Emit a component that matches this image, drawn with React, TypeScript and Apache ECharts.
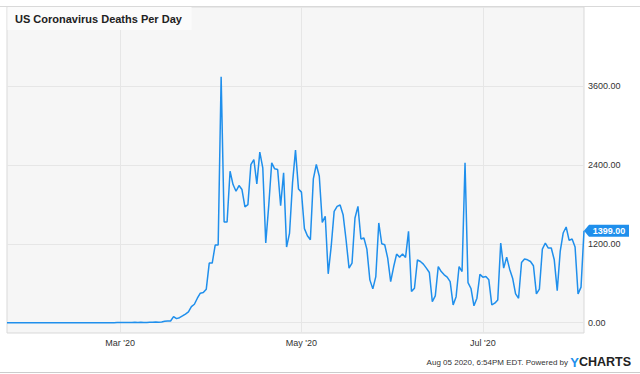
import React, { useEffect, useRef } from "react";
import * as echarts from "echarts";

// Daily deaths, Jan 23 2020 .. Aug 4 2020
const janValues = [0, 0, 0, 0, 0, 0, 0, 0, 0];
const febValues = [
  0, 0, 0, 0, 0, 0, 0, 0, 0, 0, 0, 0, 0, 0, 0, 0, 0, 0, 0, 0, 0, 0, 0, 0, 0, 0, 0, 0, 1,
];
const marValues = [
  1, 1, 4, 3, 2, 5, 2, 5, 4, 1, 6, 7, 10, 7, 11, 20, 25, 25, 92, 61, 76, 102, 130, 163, 244,
  280, 372, 448, 458, 509, 906,
];
const aprValues = [
  906, 1180, 1180, 3740, 1531, 1531, 2303, 2100, 1998, 2085, 2024, 1760, 1795, 2405, 2481,
  2111, 2593, 2355, 1211, 1779, 2431, 2339, 2329, 1780, 2278, 1150, 1363, 2126, 2623, 2034,
];
const mayValues = [
  1985, 1430, 1322, 1261, 2187, 2405, 2227, 1525, 1617, 743, 1159, 1693, 1769, 1790, 1642,
  1261, 830, 906, 1592, 1769, 1272, 1287, 1119, 651, 514, 701, 1516, 1200, 1185, 982, 625,
];
const junValues = [
  850, 1043, 997, 1043, 991, 1388, 473, 524, 956, 930, 890, 830, 763, 320, 407, 854, 778,
  727, 692, 625, 270, 396, 854, 778, 2431, 610, 520, 256, 372, 735,
];
const julValues = [
  692, 701, 651, 270, 296, 346, 1211, 830, 997, 814, 677, 438, 372, 915, 967, 956, 930, 865,
  438, 509, 1119, 1211, 1135, 1135, 956, 488, 1083, 1363, 1455, 1251, 1272,
];
const augValues = [1150, 438, 540, 1399];

const yTickValues = [0, 1200, 2400, 3600];
const xTickLabels = ["Mar '20", "May '20", "Jul '20"];
const xTickDates = ["2020-03-01", "2020-05-01", "2020-07-01"];
const startDate = "2020-01-23";
const lastValueLabel = "1399.00";

const values = [
  ...janValues,
  ...febValues,
  ...marValues,
  ...aprValues,
  ...mayValues,
  ...junValues,
  ...julValues,
  ...augValues,
];

function buildDates(start: string, n: number): string[] {
  const out: string[] = [];
  const d0 = new Date(start + "T12:00:00Z");
  for (let i = 0; i < n; i++) {
    const d = new Date(d0.getTime() + i * 86400000);
    out.push(d.toISOString().slice(0, 10));
  }
  return out;
}

const dates = buildDates(startDate, values.length);

export default function App() {
  const ref = useRef<HTMLDivElement>(null);

  useEffect(() => {
    document.body.style.margin = "0";
    const chart = echarts.init(ref.current!, null, { renderer: "svg" });
    const font = "'Liberation Sans', Arial, Helvetica, sans-serif";
    const isTick = (v: string) => xTickDates.indexOf(v) >= 0;
    const lastDate = dates[dates.length - 1];
    const lastVal = values[values.length - 1];

    chart.setOption({
      animation: false,
      backgroundColor: "#ffffff",
      textStyle: { fontFamily: font },
      grid: {
        left: 7,
        right: 56,
        top: 7,
        bottom: 41,
        show: true,
        backgroundColor: "#f6f6f6",
        borderColor: "#d9d9d9",
        borderWidth: 1,
      },
      xAxis: {
        type: "category",
        data: dates,
        boundaryGap: false,
        axisLine: { show: false },
        axisTick: { show: false },
        axisLabel: {
          interval: (_i: number, v: string) => isTick(v),
          formatter: (v: string) => xTickLabels[xTickDates.indexOf(v)] ?? "",
          color: "#333",
          fontSize: 9,
          fontFamily: font,
          margin: 5,
        },
        splitLine: {
          show: true,
          interval: (_i: number, v: string) => isTick(v),
          lineStyle: { color: "#e6e6e6", width: 1 },
        },
      },
      yAxis: {
        type: "value",
        position: "right",
        min: -157,
        max: 4800,
        axisLine: { show: false },
        axisTick: { show: false, customValues: yTickValues },
        axisLabel: {
          customValues: yTickValues,
          formatter: (v: number) => v.toFixed(2),
          color: "#333",
          fontSize: 9,
          fontFamily: font,
          margin: 4,
          verticalAlign: "middle",
          padding: [0, 0, 8, 0],
        },
        splitLine: { show: true, lineStyle: { color: "#e6e6e6", width: 1 } },
      },
      series: [
        {
          type: "line",
          data: values,
          symbol: "none",
          lineStyle: { color: "#1f8fec", width: 1.5 },
          markPoint: {
            silent: true,
            symbol: "path://M0,6 L5,0 L45,0 L45,12 L5,12 Z",
            symbolSize: [45, 12],
            symbolKeepAspect: false,
            symbolOffset: [22.5, 0],
            itemStyle: { color: "#1f8fec" },
            label: {
              show: true,
              position: "inside",
              formatter: lastValueLabel,
              color: "#ffffff",
              fontSize: 9,
              fontWeight: "bold",
              fontFamily: font,
              offset: [2.5, 0],
            },
            data: [{ coord: [lastDate, lastVal] }],
          },
        },
      ],
      graphic: [
        {
          type: "line",
          shape: { x1: 0, y1: 6.5, x2: 640, y2: 6.5 },
          style: { stroke: "#d9d9d9", lineWidth: 1 },
          z: 10,
        },
        {
          type: "rect",
          shape: { x: 7.5, y: 7, width: 184, height: 23 },
          style: { fill: "#fbfbfb" },
          z: 5,
        },
        {
          type: "text",
          x: 15,
          y: 18.5,
          style: {
            text: "US Coronavirus Deaths Per Day",
            font: `bold 11px ${font}`,
            fill: "#222",
            verticalAlign: "middle",
          },
          z: 6,
        },
        {
          type: "text",
          x: 631,
          y: 362,
          style: {
            text: "{a|Aug 05 2020, 6:54PM EDT. Powered by }{y|Y}{c|CHARTS}",
            align: "right",
            verticalAlign: "middle",
            rich: {
              a: { fontSize: 8, fontFamily: font, fill: "#333", color: "#333" },
              y: { fontSize: 13, fontWeight: "bold", fontFamily: font, color: "#1f8fec", fill: "#1f8fec" },
              c: { fontSize: 12.5, fontWeight: "bold", fontFamily: font, color: "#222", fill: "#222" },
            },
          },
        },
        {
          type: "line",
          shape: { x1: 0, y1: 372.5, x2: 640, y2: 372.5 },
          style: { stroke: "#cccccc", lineWidth: 1 },
        },
      ],
    });
    return () => chart.dispose();
  }, []);

  return (
    <div
      ref={ref}
      style={{ position: "absolute", left: 0, top: 0, width: 640, height: 374 }}
    />
  );
}
